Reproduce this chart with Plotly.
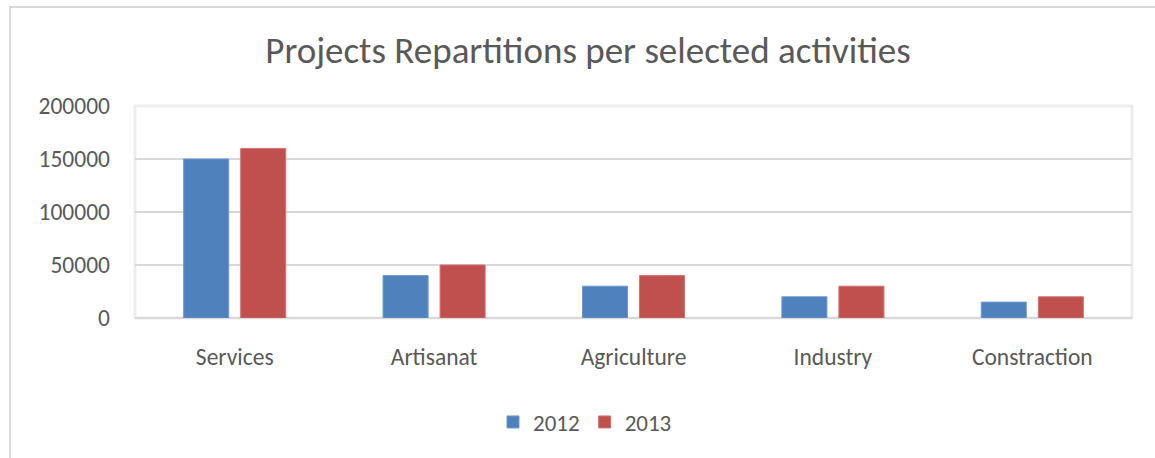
import plotly.graph_objects as go

categories = ["Services", "Artisanat", "Agriculture", "Industry", "Constraction"]
values_2012 = [150000, 40000, 30000, 20000, 15000]
values_2013 = [160000, 50000, 40000, 30000, 20000]
y_ticks = [0, 50000, 100000, 150000, 200000]

FONT = "Carlito, Lato, 'Open Sans', sans-serif"
TXT = "#595959"

W, H = 1155, 458
L, R, T, B = 135, 23, 106, 140
pw = W - L - R
ph = H - T - B

def px_x(p):
    return (p - L) / pw

def px_y(p):
    return (H - B - p) / ph

fig = go.Figure()
fig.add_trace(go.Bar(name="2012", x=categories, y=values_2012,
                     marker=dict(color="#4F81BD", line=dict(color="#6F9AD0", width=1))))
fig.add_trace(go.Bar(name="2013", x=categories, y=values_2013,
                     marker=dict(color="#C0504D", line=dict(color="#D07370", width=1))))

fig.update_layout(
    width=W, height=H,
    margin=dict(l=L, r=R, t=T, b=B),
    paper_bgcolor="white", plot_bgcolor="white",
    barmode="group", bargap=0.428, bargroupgap=0.21,
    font=dict(family=FONT, color=TXT, size=23.5),
    title=dict(text="Projects Repartitions per selected activities",
               x=px_x(588), xref="paper", xanchor="center",
               y=1 - 50 / H, yref="container", yanchor="middle",
               font=dict(size=37, color=TXT, family=FONT)),
    showlegend=True,
    legend=dict(orientation="h", x=px_x(585), xanchor="center",
                y=px_y(422), yanchor="middle",
                font=dict(size=23, color=TXT, family=FONT),
                itemwidth=30, traceorder="normal"),
    xaxis=dict(showgrid=False, showline=False, ticks="", ticklabelstandoff=22,
               tickfont=dict(size=23.5, color=TXT, family=FONT), fixedrange=True),
    yaxis=dict(range=[0, 200000], tickvals=y_ticks,
               ticktext=[str(v) for v in y_ticks],
               showgrid=True, gridcolor="#D9D9D9", gridwidth=1.5,
               zeroline=True, zerolinecolor="#D9D9D9", zerolinewidth=2,
               showline=False, ticks="", ticklabelstandoff=24,
               tickfont=dict(size=23.5, color=TXT, family=FONT), fixedrange=True),
    shapes=[
        # plot area soft border
        dict(type="rect", xref="paper", yref="paper", x0=0, x1=1, y0=0, y1=1,
             line=dict(color="#EDEDED", width=3), layer="below"),
        # outer chart border (cropped)
        dict(type="rect", xref="paper", yref="paper",
             x0=px_x(10), x1=px_x(1200), y0=px_y(520), y1=px_y(7),
             line=dict(color="#D9D9D9", width=2), layer="below"),
    ],
)

fig.write_html("out.html", config={"displayModeBar": False},
               post_script="document.body.style.margin='0';")
